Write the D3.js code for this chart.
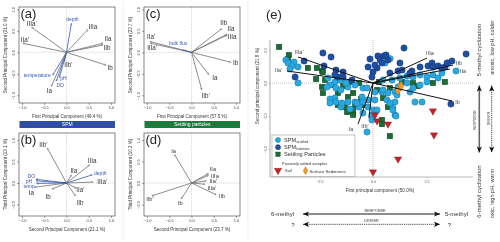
<!DOCTYPE html>
<html><head><meta charset="utf-8">
<script src="https://cdn.jsdelivr.net/npm/d3@7"></script>
<style>body{margin:0;background:#fff}svg{display:block;will-change:transform}text{font-family:"Liberation Sans",Arial,Helvetica,sans-serif}</style>
</head><body><svg id="c" width="500" height="242"></svg>
<script>
// ================= DATA =================
const ticksAD = [-1, -0.5, 0, 0.5, 1];
const ticksE = [-2.5, 0, 2.5];
const ticksEy = [-5, -2.5, 0, 2.5];

// loadings [label, x, y, kind]
const vecA = [["depth",0.11,0.67,"env"],["IIIa",0.48,0.53,"gd"],["IIa",0.82,0.21,"gd"],["IIb",0.82,0.17,"gd"],
  ["Ib",0.89,-0.30,"gd"],["IIb'",-0.05,-0.21,"gd"],["pH",-0.16,-0.58,"env"],["DO",-0.23,-0.67,"env"],
  ["temperature",-0.31,-0.53,"env"],["Ia",-0.34,-0.79,"gd"],["IIa'",-0.98,0.21,"gd"],["IIIa'",-0.78,0.58,"gd"]];
const vecB = [["IIb'",-0.43,0.81,"gd"],["IIIa",0.52,0.42,"gd"],["IIa",0.11,0.19,"gd"],["depth",0.58,0.19,"env"],
  ["IIIa'",0.60,0.02,"gd"],["IIa'",0.22,-0.12,"gd"],["IIb",0.20,-0.30,"gd"],["Ib",-0.32,-0.14,"gd"],
  ["Ia",-0.72,-0.10,"gd"],["DO",-0.68,0.085,"env"],["pH",-0.68,0.05,"env"],["temp",-0.67,-0.01,"env"]];
const vecC = [["IIb",0.68,0.55,"gd"],["IIa",0.80,0.42,"gd"],["IIIa",0.80,0.40,"gd"],["Ib",0.88,-0.23,"gd"],
  ["Ia",0.39,-0.52,"gd"],["IIb'",0.23,-0.87,"gd"],["IIa'",-0.93,0.25,"gd"],["IIIa'",-0.93,0.21,"gd"],
  ["bulk flux",-0.20,0.05,"env"]];
const vecD = [["Ia",-0.38,0.66,"gd"],["IIa",0.38,0.22,"gd"],["IIIa",0.38,0.18,"gd"],["IIa'",0.33,0.05,"gd"],
  ["IIIa'",0.30,-0.03,"gd"],["IIb",0.55,-0.27,"gd"],["IIb'",-0.89,-0.30,"gd"],["Ib",-0.23,-0.37,"gd"]];
const vecE = [["IIIa'",-3.50,1.97],["IIa'",-4.02,0.91],["IIIa",2.52,1.89],["IIb",3.74,1.36],
  ["IIa",3.60,1.06],["Ib",3.69,-1.36],["Ia",-0.70,-3.11],["IIb'",-0.19,-2.65]];

// scores panel (e) [PC1, PC2]
const spmStrat = [[-4.07,1.74],[-3.97,1.52],[-3.69,1.59],[-3.79,1.29],[-3.88,1.06],[-3.50,1.21],[-3.50,0.00],
  [-1.78,0.08],[-1.54,0.23],[-1.73,-0.38],[-1.50,-0.53],[-1.17,-0.30],[-0.84,-0.15],[-1.26,0.00],[-1.78,-1.14],
  [-1.73,-1.44],[-1.17,-1.44],[-0.84,-1.44],[-1.07,-1.97],[-1.50,-1.82],[-0.51,-1.06],[-0.23,-1.82],[-0.65,-1.82],
  [-0.47,-2.27],[0.05,-2.05],[-2.01,-0.15],[-0.47,-0.38],[-0.28,-0.38],[-2.01,-1.21],[-1.45,-1.52],[-0.75,-1.52],
  [-0.47,-1.44],[-0.23,-1.29],[0.09,-0.68],[0.42,-0.68],[0.70,-0.76],[1.03,-0.68],[0.09,-1.29],[0.65,-1.29],
  [0.19,-2.05],[-0.05,-2.42],[0.93,-1.89],[1.03,-2.42],[0.80,1.85],[0.56,1.52],[1.59,0.53],[1.87,0.45],[2.20,0.61],
  [2.52,0.45],[2.80,0.61],[3.04,0.38],[3.22,0.76],[3.50,1.52],[3.88,0.91],[0.47,0.23],[0.89,0.23],[1.26,0.38],
  [1.59,0.00],[1.87,-0.38],[2.20,-0.15],[2.52,0.08],[1.17,-0.30],[1.73,-0.68],[0.47,-0.53],[1.12,-0.91],[1.03,-1.44],
  [1.96,-1.44],[2.29,-1.44],[0.93,-2.05],[-0.28,-3.71],[-0.05,-2.80],[0.79,-1.52],[1.07,-2.50],[-2.01,-1.52],
  [-2.10,0.38],[-2.15,-0.30]];
const spmMixed = [[-3.22,1.67],[-2.34,2.27],[-1.96,1.97],[-3.64,0.45],[-1.73,0.98],[-1.40,0.83],[-1.64,0.45],
  [-0.98,0.23],[-0.14,1.82],[-0.23,1.21],[0.00,0.83],[0.19,1.14],[-0.05,0.45],[-2.29,1.29],[-1.40,0.45],[0.23,2.05],
  [0.51,2.05],[0.33,1.74],[0.70,1.74],[0.09,1.36],[0.42,1.52],[0.79,0.76],[1.17,0.91],[1.45,2.65],[4.35,2.20],
  [0.61,2.12],[1.26,1.52],[1.36,0.98],[1.82,0.91],[2.20,1.21],[2.57,1.29],[2.76,1.52],[2.80,1.21],[3.04,1.29],
  [3.22,1.14],[3.36,1.21],[3.69,1.67],[3.46,1.52],[3.64,-1.59],[1.73,0.76],[-1.78,0.61]];
const settling = [[-4.39,2.73],[-3.93,2.12],[-3.97,1.82],[-3.04,1.14],[-2.66,0.30],[-2.38,0.91],[-2.24,0.23],
  [-2.38,-0.30],[-2.34,-0.76],[-1.92,-0.15],[-1.07,0.08],[-0.65,0.00],[-0.93,-0.76],[-0.56,-1.21],[-1.17,-1.06],
  [-0.84,-1.74],[-1.31,-1.82],[0.28,0.08],[-2.62,1.14],[-2.34,0.83],[-1.40,-0.23],[-1.64,-0.76],[0.19,-0.53],
  [0.79,-0.38],[-1.64,-1.67],[-1.21,-2.20],[-0.93,-2.20],[-0.47,-1.67],[0.79,-1.67],[1.36,0.08],[1.87,0.00],
  [2.10,-0.23],[2.80,0.00],[3.36,0.08],[0.47,-1.14],[0.70,-1.82],[-0.93,-2.42],[0.42,-2.80],[0.42,-3.11],
  [0.79,-4.02],[-1.68,0.23]];
const soil = [[0.09,-2.42],[0.19,-2.88],[0.70,-3.11],[1.17,-5.76],[0.00,-6.74],[2.80,-2.12],[2.85,-3.94]];
const sediments = [[1.17,-0.53],[1.31,-0.23]];

// ================= LAYOUT / STYLE =================
const svg = d3.select("#c");
const GRAY = "#6f6f6f", ENV = "#3658b5", TXT = "#333";
const lightBlue = "#29a9e1", darkBlue = "#1f4fa2", green = "#1c6b35", red = "#c8202a", orange = "#f39a2d";
const f1 = d3.format(".1f");

svg.append("defs").append("marker").attr("id","ah").attr("viewBox","0 0 10 10").attr("refX",9).attr("refY",5)
  .attr("markerWidth",3).attr("markerHeight",3).attr("orient","auto-start-reverse")
  .append("path").attr("d","M0,0L10,5L0,10").attr("fill","none").attr("stroke","context-stroke").attr("stroke-width",1.5);

// separators
[123, 248].forEach(xx => svg.append("line").attr("x1",xx).attr("x2",xx).attr("y1",2).attr("y2",240)
  .attr("stroke","#cfcfcf").attr("stroke-width",0.6).attr("stroke-dasharray","1,1"));

const offs = {
  a: {depth:[1,-4],"IIIa":[5,-3],"IIa":[5,-4],"IIb":[4,2.5],"Ib":[4,3],"IIb'":[4,3],"pH":[4,1.5],"DO":[4,4.5],
      "temperature":[-2,0,"end"],"Ia":[-2,5],"IIa'":[2,-3],"IIIa'":[0,-4]},
  b: {"IIb'":[-4,-3],"IIIa":[2.5,-4],"IIa":[2.5,-4],"depth":[8,-1.5],"IIIa'":[9,0],"IIa'":[4,2],"IIb":[4.5,7],
      "Ib":[-4,8],"Ia":[-3,5.5],"DO":[-1,-3,"end"],"pH":[-4,0.5,"end"],"temp":[-2,2.5,"end"]},
  c: {"IIb":[2,-6],"IIa":[4,-5],"IIIa":[5,2],"Ib":[5,1],"Ia":[6,3],"IIb'":[4,6],"IIa'":[1,-5],"IIIa'":[2,5],
      "bulk flux":[-4.5,-6.5]},
  d: {"Ia":[-1,-4],"IIa":[4.5,-4.5],"IIIa":[6.5,0.3],"IIa'":[7,0.5],"IIIa'":[7,3.8],"IIb":[6,1.5],"IIb'":[-2,3],"Ib":[-1,4]},
  e: {"IIIa'":[1,-5],"IIa'":[-8.5,-1],"IIIa":[3,-5],"IIb":[6,-2],"IIa":[13,2],"Ib":[5.5,1],"Ia":[-7,5],"IIb'":[-4,8]}
};

function biplot(o) {
  const x = d3.scaleLinear().domain([-1,1]).range(o.xr);
  const y = d3.scaleLinear().domain([-1,1]).range(o.yr);
  const [bx0,by0,bx1,by1] = o.box;
  const g = svg.append("g");
  g.append("line").attr("x1",x(0)).attr("x2",x(0)).attr("y1",by0).attr("y2",by1)
    .attr("stroke","#aaa").attr("stroke-width",0.5).attr("stroke-dasharray","1.2,1.2");
  g.append("line").attr("x1",bx0).attr("x2",bx1).attr("y1",y(0)).attr("y2",y(0))
    .attr("stroke","#aaa").attr("stroke-width",0.5).attr("stroke-dasharray","1.2,1.2");
  o.vecs.forEach(v => {
    const col = v[3]==="env" ? ENV : GRAY;
    g.append("line").attr("x1",x(0)).attr("y1",y(0)).attr("x2",x(v[1])).attr("y2",y(v[2]))
      .attr("stroke",col).attr("stroke-width",0.8).attr("marker-end","url(#ah)");
    const off = o.offs[v[0]] || [0,0];
    g.append("text").attr("x",x(v[1])+off[0]).attr("y",y(v[2])+off[1]).attr("dy","0.35em")
      .attr("text-anchor",off[2]||"middle").attr("font-size",v[3]==="env"?5:(o.small?5.6:6.3))
      .attr("fill",v[3]==="env"?ENV:TXT).text(v[0]);
  });
  g.append("rect").attr("x",bx0).attr("y",by0).attr("width",bx1-bx0).attr("height",by1-by0)
    .attr("fill","none").attr("stroke","#333").attr("stroke-width",0.6);
  const ax = g.append("g").attr("transform",`translate(0,${by1})`)
    .call(d3.axisBottom(x).tickValues(ticksAD).tickFormat(f1).tickSize(2).tickPadding(1.5));
  const ay = g.append("g").attr("transform",`translate(${bx0},0)`)
    .call(d3.axisLeft(y).tickValues(o.yt).tickFormat(f1).tickSize(2));
  [ax,ay].forEach(a => { a.select(".domain").remove(); a.selectAll("line").attr("stroke","#444").attr("stroke-width",0.5);
    a.selectAll("text").attr("font-size",4).attr("fill","#444").attr("font-family",null); });
  ay.selectAll("text").attr("x",null).attr("dy",null).attr("text-anchor","middle")
    .attr("transform","translate(-4.5,0) rotate(-90)");
  g.append("text").attr("x",(bx0+bx1)/2).attr("y",by1+14.5).attr("text-anchor","middle")
    .attr("font-size",4.5).attr("fill",TXT).text(o.xTitle);
  g.append("text").attr("transform",`translate(${bx0-12},${(by0+by1)/2}) rotate(-90)`).attr("text-anchor","middle")
    .attr("font-size",4.5).attr("fill",TXT).text(o.yTitle);
  g.append("text").attr("x",bx0+1.5).attr("y",by0+11).attr("font-size",13).attr("fill","#222").text(o.tag);
}

biplot({xr:[22,111], yr:[95.3,9.3], box:[19,7,115,103], yt:ticksAD, vecs:vecA, offs:offs.a, tag:"(a)",
  xTitle:"First Principal Component (49.4 %)", yTitle:"Second Principal Component (21.0 %)"});
biplot({xr:[147,236], yr:[95.3,9.3], box:[144,7,240,103], yt:ticksAD, vecs:vecC, offs:offs.c, tag:"(c)",
  xTitle:"First Principal Component (57.5 %)", yTitle:"Second Principal Component (23.7 %)"});
biplot({xr:[22,111], yr:[226,140], box:[19,133,115,216], yt:[-0.5,0,0.5,1], vecs:vecB, offs:offs.b, tag:"(b)",
  xTitle:"Second Principal Component (21.1 %)", yTitle:"Third Principal Component (13.1 %)"});
biplot({xr:[147,236], yr:[226,140], box:[144,133,240,216], yt:[-0.5,0,0.5,1], vecs:vecD, offs:offs.d, tag:"(d)", small:true,
  xTitle:"Second Principal Component (23.7 %)", yTitle:"Third Principal Component (10.2 %)"});

// header bars
[[19.5,115,"#2e4fa3","SPM"],[144.5,240,"#1b7a3c","Settling particles"]].forEach(b => {
  svg.append("rect").attr("x",b[0]).attr("y",121).attr("width",b[1]-b[0]).attr("height",7).attr("fill",b[2]);
  svg.append("text").attr("x",(b[0]+b[1])/2).attr("y",124.6).attr("dy","0.35em").attr("text-anchor","middle")
    .attr("font-size",5).attr("fill","#fff").text(b[3]);
});

// ================= PANEL (e) =================
const xe = d3.scaleLinear().domain([-5,5]).range([266,480]);
const ye = d3.scaleLinear().domain([-5,2.5]).range([149,50]);
const ge = svg.append("g");
ge.append("text").attr("x",266).attr("y",19).attr("font-size",13).attr("fill","#222").text("(e)");
ge.append("line").attr("x1",xe(0)).attr("x2",xe(0)).attr("y1",40).attr("y2",177)
  .attr("stroke","#999").attr("stroke-width",0.6).attr("stroke-dasharray","1,1");
ge.append("line").attr("x1",270).attr("x2",473).attr("y1",ye(0)).attr("y2",ye(0))
  .attr("stroke","#999").attr("stroke-width",0.6).attr("stroke-dasharray","1,1");
// axes
const axE = ge.append("g").attr("transform","translate(0,177)")
  .call(d3.axisBottom(xe).tickValues(ticksE).tickFormat(f1).tickSize(1.5).tickPadding(1.5));
const ayE = ge.append("g").attr("transform","translate(270,0)")
  .call(d3.axisLeft(ye).tickValues(ticksEy).tickFormat(f1).tickSize(1.5));
[axE,ayE].forEach(a => { a.selectAll("line").attr("stroke","#999").attr("stroke-width",0.5);
  a.selectAll("text").attr("font-size",3.6).attr("fill","#555").attr("font-family",null); });
axE.select(".domain").attr("d","M270,0H473").attr("stroke","#bbb").attr("stroke-width",1.2);
ayE.select(".domain").attr("d","M0,40V177").attr("stroke","#bbb").attr("stroke-width",1.2);
ayE.selectAll("text").attr("x",null).attr("dy",null).attr("text-anchor","middle").attr("transform","translate(-3.5,0) rotate(-90)");
ge.append("text").attr("x",380).attr("y",191.5).attr("text-anchor","middle").attr("font-size",4.6).attr("fill",TXT)
  .text("First principal component (50.0%)");
ge.append("text").attr("transform","translate(259,86) rotate(-90)").attr("text-anchor","middle").attr("font-size",4.6)
  .attr("fill",TXT).text("Second principal component (21.8 %)");

// points
ge.selectAll(".gs").data(settling).join("rect").attr("x",d=>xe(d[0])-2.8).attr("y",d=>ye(d[1])-2.8)
  .attr("width",5.6).attr("height",5.6).attr("fill",green).attr("stroke","#0c3318").attr("stroke-width",0.3);
ge.selectAll(".lb").data(spmStrat).join("circle").attr("cx",d=>xe(d[0])).attr("cy",d=>ye(d[1])).attr("r",3.2)
  .attr("fill",lightBlue).attr("stroke","#14507a").attr("stroke-width",0.3);
ge.selectAll(".db").data(spmMixed).join("circle").attr("cx",d=>xe(d[0])).attr("cy",d=>ye(d[1])).attr("r",3.2)
  .attr("fill",darkBlue).attr("stroke","#0c2452").attr("stroke-width",0.3);
const tri = d3.symbol().type(d3.symbolTriangle).size(24);
ge.selectAll(".so").data(soil).join("path").attr("d",tri)
  .attr("transform",d=>`translate(${xe(d[0])},${ye(d[1])}) rotate(180)`).attr("fill",red).attr("stroke","#6a0d12").attr("stroke-width",0.3);
const dia = d3.symbol().type(d3.symbolDiamond).size(30);
ge.selectAll(".se").data(sediments).join("path").attr("d",dia)
  .attr("transform",d=>`translate(${xe(d[0])},${ye(d[1])})`).attr("fill",orange).attr("stroke","#8a4b06").attr("stroke-width",0.3);

// loadings
vecE.forEach(v => {
  ge.append("line").attr("x1",xe(0)).attr("y1",ye(0)).attr("x2",xe(v[1])).attr("y2",ye(v[2]))
    .attr("stroke","#111").attr("stroke-width",1);
  const off = offs.e[v[0]];
  ge.append("text").attr("x",xe(v[1])+off[0]).attr("y",ye(v[2])+off[1]).attr("dy","0.35em").attr("text-anchor","middle")
    .attr("font-size",5.5).attr("fill","#444").text(v[0]);
});

// legend
const lg = ge.append("g");
lg.append("rect").attr("x",272).attr("y",135).attr("width",83).attr("height",41.5).attr("fill","#fff")
  .attr("stroke","#999").attr("stroke-width",0.6);
const legRows = [[lightBlue,"SPM","stratified"],[darkBlue,"SPM","holomixis"]];
legRows.forEach((r,i) => {
  const yy = 140 + i*7.2;
  lg.append("circle").attr("cx",278).attr("cy",yy).attr("r",2.6).attr("fill",r[0]).attr("stroke","#0c2452").attr("stroke-width",0.3);
  const t = lg.append("text").attr("x",284).attr("y",yy).attr("dy","0.35em").attr("font-size",5.6).attr("fill",TXT);
  t.append("tspan").text(r[1]);
  t.append("tspan").attr("font-size",3.2).attr("dy","1.2").text(r[2]);
});
lg.append("rect").attr("x",275.7).attr("y",152).attr("width",4.6).attr("height",4.6).attr("fill",green).attr("stroke","#0c3318").attr("stroke-width",0.3);
lg.append("text").attr("x",284).attr("y",154.4).attr("dy","0.35em").attr("font-size",5.6).attr("fill",TXT).text("Settling Particles");
lg.append("text").attr("x",282).attr("y",163.5).attr("dy","0.35em").attr("font-size",4).attr("fill",TXT).text("Passively added samples");
lg.append("path").attr("d",tri).attr("transform","translate(278,170.5) rotate(180)").attr("fill",red).attr("stroke","#6a0d12").attr("stroke-width",0.3);
lg.append("text").attr("x",285).attr("y",171).attr("dy","0.35em").attr("font-size",4).attr("fill",TXT).text("Soil");
lg.append("path").attr("d",dia).attr("transform","translate(305.5,170.7) scale(0.8)").attr("fill",orange).attr("stroke","#8a4b06").attr("stroke-width",0.3);
lg.append("text").attr("x",309.5).attr("y",171).attr("dy","0.35em").attr("font-size",4.3).attr("fill",TXT).text("Surface Sediments");

// ================= ANNOTATION ARROWS =================
const ann = svg.append("g");
function head(x, y, ang) {
  ann.append("path").attr("d","M0,0L-6,-2.6L-4.6,0L-6,2.6Z").attr("fill","#111")
    .attr("transform",`translate(${x},${y}) rotate(${ang})`);
}
function arrow(x1,y1,x2,y2,dashed) {
  ann.append("line").attr("x1",x1).attr("y1",y1).attr("x2",x2).attr("y2",y2)
    .attr("stroke",dashed?"#555":"#666").attr("stroke-width",dashed?1:1.6).attr("stroke-dasharray",dashed?"1.3,0.8":null);
  const ang = Math.atan2(y2-y1,x2-x1)*180/Math.PI;
  head(x2,y2,ang); head(x1,y1,ang+180);
}
arrow(479.3,85.5,479.3,152.5,false);
arrow(491.7,85.5,491.7,152.5,true);
arrow(303,214,440,214,false);
arrow(303,224.3,440,224.3,true);
function vtext(x,y,s,fs){ ann.append("text").attr("transform",`translate(${x},${y}) rotate(-90)`).attr("text-anchor","middle")
  .attr("dy","0.35em").attr("font-size",fs).attr("fill",TXT).text(s); }
vtext(479.3,50,"5-methyl cyclization",6);
vtext(492,47.5,"anoxic, low pH, colder",5.6);
vtext(479.3,191.5,"6-methyl cyclization",6);
vtext(492,193.5,"oxic, high pH, warm",5.6);
vtext(475,120,"RESPONSE",3.6);
vtext(488.3,118.5,"DRIVER",3.6);
function htext(x,y,s,fs,anchor){ ann.append("text").attr("x",x).attr("y",y).attr("dy","0.35em").attr("text-anchor",anchor||"middle")
  .attr("font-size",fs).attr("fill",TXT).text(s); }
htext(282.5,214,"6-methyl",6);
htext(456.5,214,"5-methyl",6);
htext(375,210.5,"RESPONSE",3.8);
htext(371.5,220.7,"DRIVER",3.8);
htext(293,224.5,"?",6);
htext(449.5,224.5,"?",6);
</script></body></html>
